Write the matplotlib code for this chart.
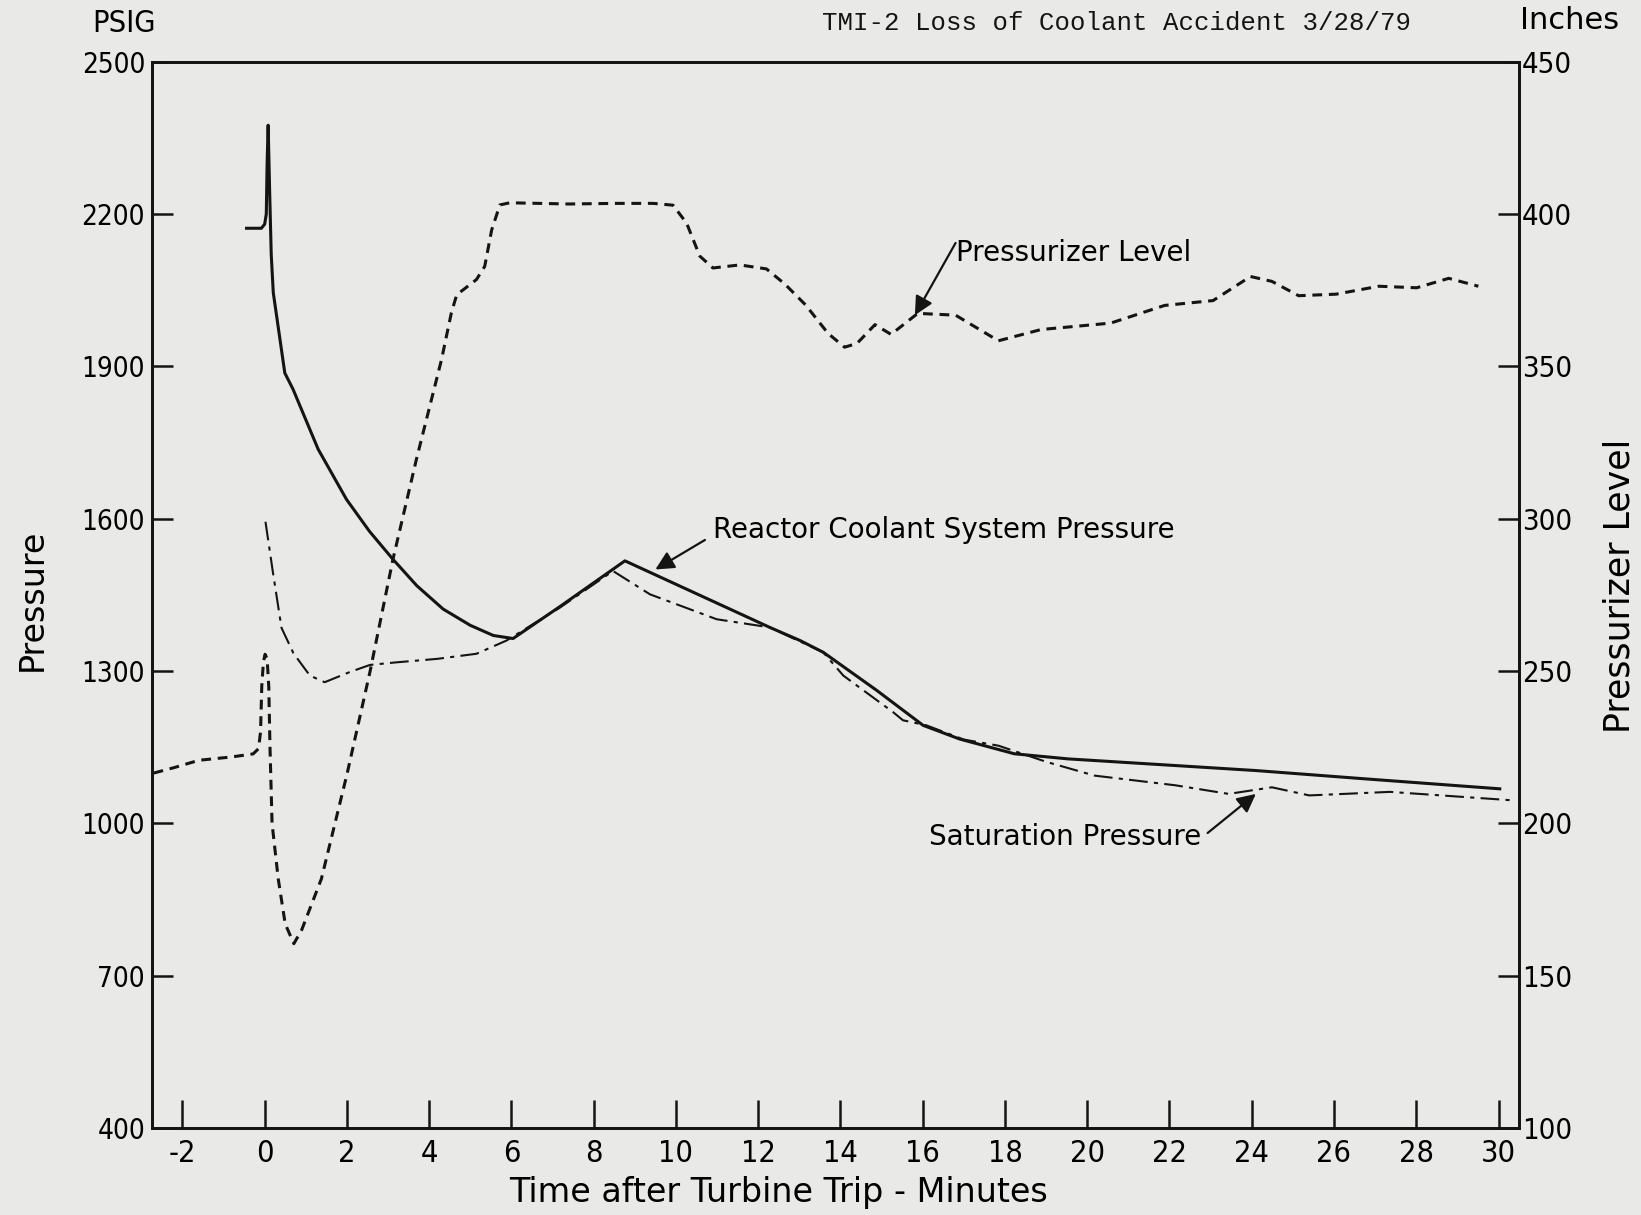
import matplotlib
matplotlib.use("Agg")
import matplotlib.pyplot as plt
from matplotlib import font_manager

# Reactor coolant system pressure (psig) vs minutes after turbine trip
rcs_t = [-0.44, -0.08, 0.0, 0.04, 0.06, 0.085, 0.12, 0.16, 0.21, 0.49, 0.69, 1.3, 1.99,
         2.55, 3.12, 3.7, 4.34, 5.0, 5.56, 6.04, 7.18, 8.76, 12.28, 13.02, 13.58, 14.88,
         16.01, 16.9, 18.23, 19.53, 24.1, 26.7, 30.03]
rcs_p = [2172, 2172, 2180, 2200, 2300, 2375, 2250, 2120, 2045, 1887, 1855, 1737, 1638,
         1575, 1520, 1468, 1422, 1390, 1370, 1364, 1427, 1517, 1386, 1360, 1337, 1262,
         1193, 1166, 1137, 1127, 1104, 1088, 1068]

# Saturation pressure (psig)
sat_t = [0.02, 0.2, 0.41, 0.7, 1.1, 1.46, 2.07, 2.56, 3.19, 4.2, 5.15, 5.88, 7.18, 8.47,
         9.37, 10.99, 12.28, 13.58, 14.07, 15.28, 15.52, 16.09, 17.0, 17.84, 19.01, 20.18,
         22.14, 23.44, 24.49, 25.4, 27.36, 30.4]
sat_p = [1594, 1495, 1385, 1335, 1291, 1278, 1298, 1312, 1317, 1324, 1334, 1360, 1425,
         1497, 1451, 1402, 1386, 1337, 1291, 1219, 1203, 1193, 1165, 1153, 1121, 1094,
         1075, 1058, 1071, 1055, 1062, 1045]

# Pressurizer level (inches)
lvl_t = [-2.7, -2.2, -1.6, -0.8, -0.28, -0.15, -0.1, -0.07, -0.03, 0.01, 0.06, 0.1, 0.13,
         0.18, 0.33, 0.5, 0.71, 0.9, 1.1, 1.38, 2.0, 2.56, 3.12, 3.69, 4.3, 4.54, 4.67,
         5.15, 5.35, 5.52, 5.72, 5.96, 7.4, 8.5, 9.45, 9.93, 10.26, 10.58, 10.9, 11.55,
         12.2, 12.65, 13.15, 13.7, 14.1, 14.4, 14.84, 15.23, 15.88, 16.8, 17.84, 18.88,
         20.57, 21.88, 23.06, 23.97, 24.49, 25.14, 26.05, 27.09, 28.01, 28.79, 29.51]
lvl_in = [216.5, 218.3, 220.7, 221.8, 222.8, 224.5, 230, 245, 253, 255.5, 254, 245, 225,
          200, 181.8, 167, 160.5, 165, 172, 181.8, 216, 249.7, 286.7, 319.5, 352.2, 367.6,
          373.5, 378.5, 382.8, 394.8, 403, 403.7, 403.3, 403.5, 403.5, 402.9, 397, 386.2,
          382.3, 383.3, 382, 377, 370.2, 360.8, 356.3, 357.5, 363.7, 360.5, 367.4, 366.8,
          358.4, 362.1, 364.2, 370, 371.6, 379.5, 377.9, 373.2, 373.7, 376.3, 375.8, 378.9,
          376.3]

x_ticks = list(range(-2, 31, 2))
p_ticks = [400, 700, 1000, 1300, 1600, 1900, 2200, 2500]
l_ticks = [100, 150, 200, 250, 300, 350, 400, 450]

ink = "#141414"
paper = "#e9e9e7"

# narrow sans for the numbers if the system has one, otherwise condensed DejaVu
names = {f.name for f in font_manager.fontManager.ttflist}
if "Liberation Sans Narrow" in names:
    narrow = dict(family="Liberation Sans Narrow")
else:
    narrow = dict(family="DejaVu Sans", stretch="condensed")
plain = dict(family="DejaVu Sans")

fig = plt.figure(figsize=(16.41, 12.15), dpi=100, facecolor=paper)
ax = fig.add_axes([0.0926, 0.0716, 0.8331, 0.8776])
ax.set_facecolor(paper)
ax2 = ax.twinx()

ax.plot(rcs_t, rcs_p, color=ink, lw=2.2, solid_joinstyle="round")
ax.plot(sat_t, sat_p, color=ink, lw=1.5, linestyle=(0, (9, 3, 2, 3)))
ax2.plot(lvl_t, lvl_in, color=ink, lw=2.2, linestyle=(0, (3.2, 2.2)))

ax.set_xlim(-2.74, 30.5)
ax.set_ylim(400, 2500)
ax2.set_ylim(100, 450)

ax.set_xticks(x_ticks)
ax.set_xticklabels([str(t) for t in x_ticks], fontsize=22, **narrow)
ax.set_yticks(p_ticks)
ax.set_yticklabels([str(p) for p in p_ticks], fontsize=20, **narrow)
ax2.set_yticks(l_ticks)
ax2.set_yticklabels([str(v) for v in l_ticks], fontsize=21, **narrow)

ax.tick_params(axis="x", direction="in", length=20, width=1.8, color=ink, pad=8)
ax.tick_params(axis="y", direction="in", length=15, width=1.8, color=ink, pad=5)
ax2.tick_params(axis="y", direction="in", length=15, width=1.8, color=ink, pad=2)

for a in (ax, ax2):
    for s in a.spines.values():
        s.set_linewidth(2.0)
        s.set_color(ink)

# axis titles placed on the figure, as on the original sheet
fig.text(0.4747, 0.0185, "Time after Turbine Trip - Minutes", fontsize=24,
         ha="center", va="center", **plain)
fig.text(0.0195, 0.5062, "Pressure", fontsize=24, rotation=90,
         ha="center", va="center", **plain)
fig.text(0.9870, 0.5177, "Pressurizer Level", fontsize=25, rotation=90,
         ha="center", va="center", **plain)

fig.text(0.056, 0.981, "PSIG", fontsize=22, va="center", **narrow)
fig.text(0.926, 0.983, "Inches", fontsize=22, va="center", **plain)
fig.text(0.501, 0.981, "TMI-2 Loss of Coolant Accident 3/28/79", family="Liberation Mono",
         fontsize=18.5, va="center", color=ink)

# callouts
fig.text(0.5823, 0.7918, "Pressurizer Level", fontsize=20, va="center", **plain)
fig.text(0.4345, 0.5638, "Reactor Coolant System Pressure", fontsize=20, va="center", **plain)
fig.text(0.566, 0.3114, "Saturation Pressure", fontsize=20, va="center", **plain)

arrow = dict(arrowstyle="-|>", color=ink, lw=1.6, mutation_scale=28, shrinkA=0, shrinkB=0)
ax2.annotate("", xy=(15.81, 366.8), xytext=(0.5823, 0.80), textcoords="figure fraction",
             arrowprops=arrow)
ax.annotate("", xy=(9.5, 1500), xytext=(0.4296, 0.5556), textcoords="figure fraction",
            arrowprops=arrow)
ax.annotate("", xy=(24.1, 1058), xytext=(0.7359, 0.3144), textcoords="figure fraction",
            arrowprops=arrow)

fig.savefig("out.png", dpi=100, facecolor=paper)
